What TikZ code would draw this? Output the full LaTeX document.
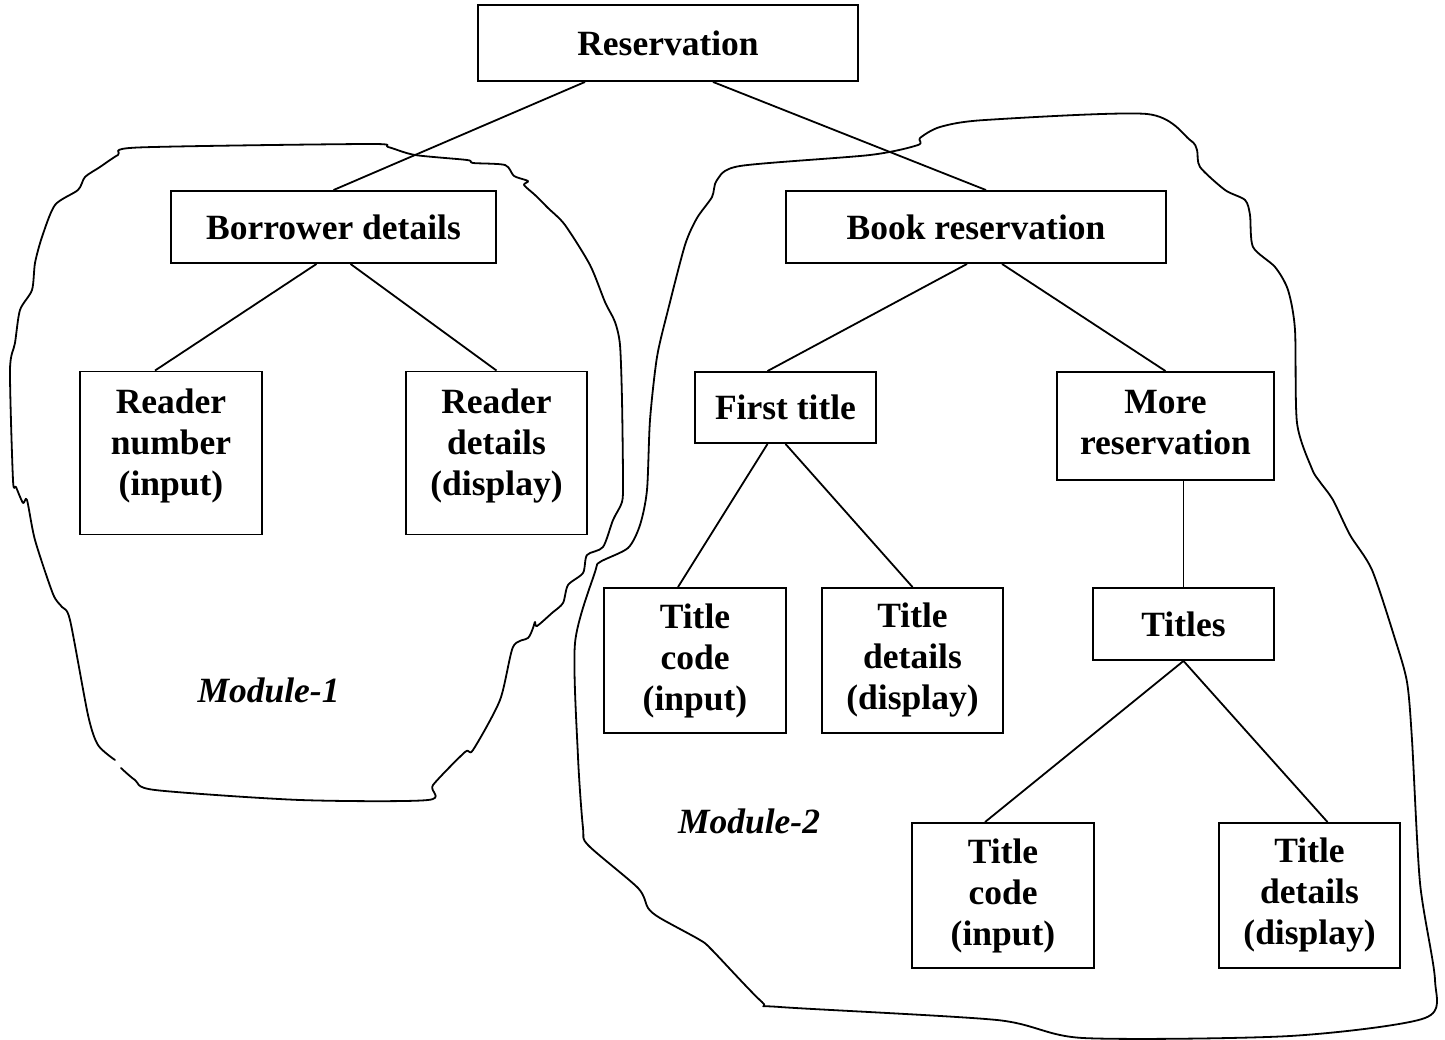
\documentclass[tikz,border=0pt]{standalone}
\usepackage{fontspec}
\setmainfont{Liberation Serif}
\usetikzlibrary{calc}
\begin{document}
\begin{tikzpicture}[x=1pt,y=-1pt,
  box/.style={draw, line width=1.9pt, inner sep=0pt, align=center, fill=white,
    font=\fontsize{35.5}{41}\selectfont\bfseries},
  conn/.style={line width=1.8pt},
  blob/.style={line width=1.8pt, line join=round, line cap=round},
  mod/.style={font=\fontsize{35.5}{41}\selectfont\bfseries\itshape, anchor=base, inner sep=0pt}]
\useasboundingbox (0,0) rectangle (1445,1040);
\fill[white] (0,0) rectangle (1445,1040);

% Module-1 outline (hand drawn, with a small gap at lower left)
\draw[blob] plot[smooth, tension=0.45] coordinates {
 (121,768) (135,780) (155,790) (300,800) (428,800) (433,785) (465,752) (473,750)
 (500,700) (513,647) (528,638) (533,628) (535,622) (537,626) (552,613) (563,603)
 (568,585) (583,573) (587,555) (603,547) (613,520) (622,502) (623,480) (622,400)
 (620,345) (615,322) (605,302) (590,265) (565,225) (548,208) (535,195) (524,185)
 (528,181) (514,176) (505,165) (473,163) (467,160) (415,155) (388,147) (368,144)
 (138,147.5) (118,155) (100,167) (85,177) (78,190) (55,205) (42,237)
 (35,263) (32,290) (20,310) (15,343) (10,370) (13,480) (16,487) (23,503) (27,500)
 (35,540) (53,594) (62,607) (70,620) (88,715) (98,745) (115,760)};

% Module-2 outline
\draw[blob] plot[smooth cycle, tension=0.45] coordinates {
 (717,180) (740,166) (870,155) (918,145) (920,138) (940,127) (985,120) (1147,114)
 (1190,140) (1197,150) (1200,167) (1225,190) (1245,200) (1250,215) (1253,247)
 (1275,267) (1288,290) (1295,330) (1297,423) (1312,469) (1320,482) (1333,500)
 (1350,535) (1372,570) (1395,639) (1407,682) (1412,740) (1420,883) (1435,980)
 (1425,1018) (1290,1036) (1083,1038) (997,1020) (780,1007) (762,1002) (712,950)
 (700,940) (660,918) (648,908) (638,888) (588,845) (583,828) (578,757) (575,643)
 (595,572) (600,562) (628,548) (640,525) (647,490) (650,420) (657,357) (668,310)
 (685,245) (697,218) (712,197)};

% boxes
\node[box, minimum width=380pt, minimum height=76pt] (res) at (668,43) {Reservation};
\node[box, minimum width=325pt, minimum height=72pt] (bor) at (333.5,227) {Borrower details};
\node[box, minimum width=380pt, minimum height=72pt] (book) at (976,227) {Book reservation};
\node[box, minimum width=182pt, minimum height=163pt, text depth=21.5pt] (rnum) at (171,453) {Reader\\number\\(input)};
\node[box, minimum width=181pt, minimum height=163pt, text depth=21.5pt] (rdet) at (496.5,453) {Reader\\details\\(display)};
\node[box, minimum width=181pt, minimum height=71pt] (first) at (785.5,407.5) {First title};
\node[box, minimum width=217pt, minimum height=108pt, text depth=8pt] (more) at (1165.5,426) {More\\reservation};
\node[box, minimum width=182pt, minimum height=145pt] (tc1) at (695,660.5) {Title\\code\\(input)};
\node[box, minimum width=181pt, minimum height=145pt] (td1) at (912.5,660.5) {Title\\details\\(display)};
\node[box, minimum width=181pt, minimum height=72pt] (titles) at (1183.5,624) {Titles};
\node[box, minimum width=182pt, minimum height=145pt] (tc2) at (1003,895.5) {Title\\code\\(input)};
\node[box, minimum width=181pt, minimum height=145pt] (td2) at (1309.5,895.5) {Title\\details\\(display)};

% connectors
\draw[conn] ([xshift=-83pt]res.south) -- (bor.north);
\draw[conn] ([xshift=45pt]res.south) -- ([xshift=10pt]book.north);
\draw[conn] ([xshift=-17pt]bor.south) -- ([xshift=-16pt]rnum.north);
\draw[conn] ([xshift=17pt]bor.south) -- (rdet.north);
\draw[conn] ([xshift=-9pt]book.south) -- ([xshift=-18pt]first.north);
\draw[conn] ([xshift=26pt]book.south) -- (more.north);
\draw[conn] ([xshift=-18pt]first.south) -- ([xshift=-17pt]tc1.north);
\draw[conn] (first.south) -- (td1.north);
\draw[conn] ([xshift=18pt]more.south) -- (titles.north);
\draw[conn] (titles.south) -- ([xshift=-18pt]tc2.north);
\draw[conn] (titles.south) -- ([xshift=18pt]td2.north);

% module labels
\node[mod] (m1) at (268.5,702) {Module-1};
\node[mod] (m2) at (749,833) {Module-2};
\end{tikzpicture}
\end{document}
